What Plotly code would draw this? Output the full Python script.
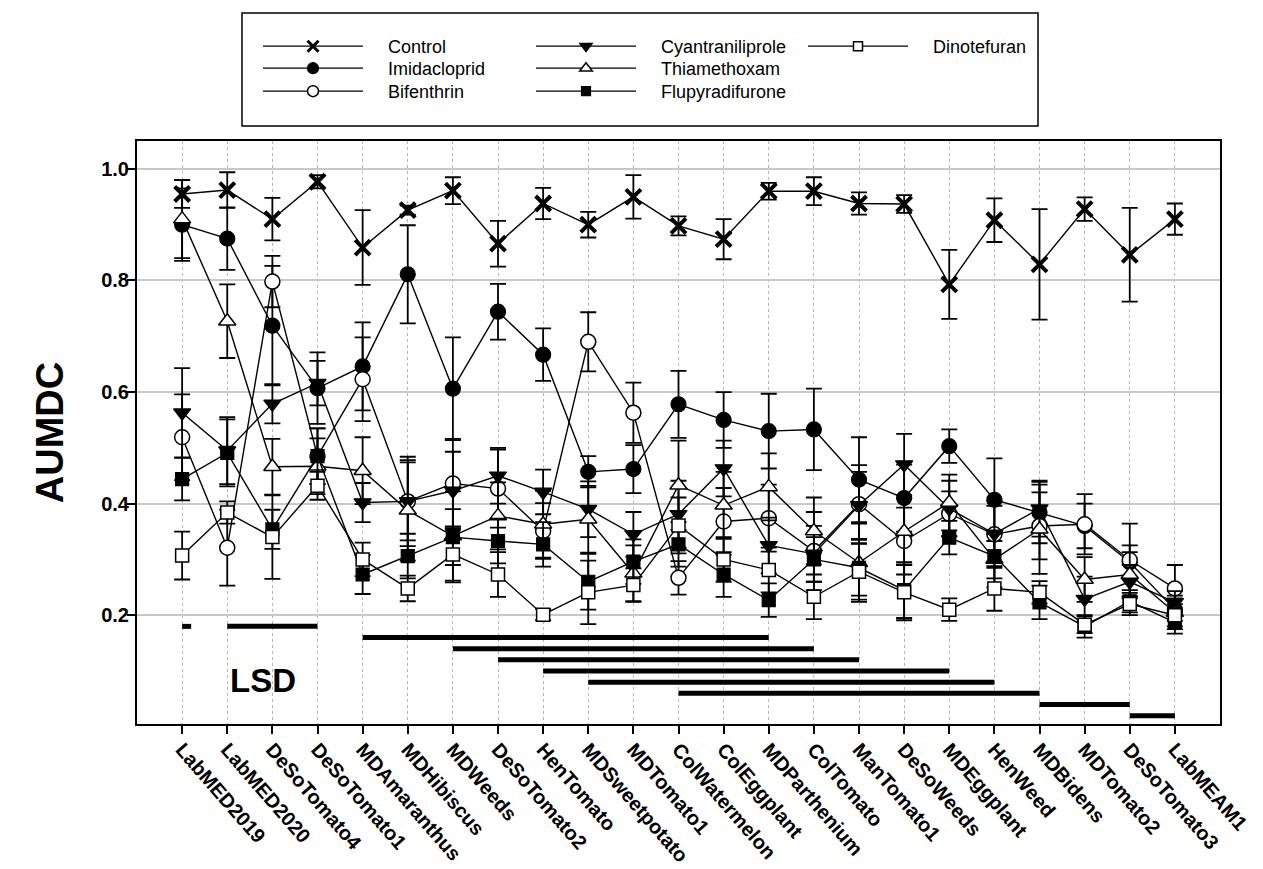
import plotly.graph_objects as go

categories = ["LabMED2019", "LabMED2020", "DeSoTomato4", "DeSoTomato1", "MDAmaranthus",
              "MDHibiscus", "MDWeeds", "DeSoTomato2", "HenTomato", "MDSweetpotato",
              "MDTomato1", "ColWatermelon", "ColEggplant", "MDParthenium", "ColTomato",
              "ManTomato1", "DeSoWeeds", "MDEggplant", "HenWeed", "MDBidens",
              "MDTomato2", "DeSoTomato3", "LabMEAM1"]

control = [0.955, 0.962, 0.910, 0.977, 0.859, 0.926, 0.961, 0.866, 0.938, 0.900, 0.950, 0.898,
           0.874, 0.960, 0.960, 0.938, 0.937, 0.793, 0.908, 0.829, 0.928, 0.846, 0.910]
control_se = [0.025, 0.032, 0.038, 0.012, 0.067, 0.008, 0.024, 0.041, 0.028, 0.023, 0.039, 0.017,
              0.036, 0.015, 0.025, 0.020, 0.016, 0.062, 0.039, 0.099, 0.021, 0.084, 0.028]

imidacloprid = [0.900, 0.875, 0.719, 0.607, 0.646, 0.811, 0.606, 0.744, 0.667, 0.457, 0.462, 0.578,
                0.550, 0.530, 0.533, 0.443, 0.410, 0.503, 0.407, 0.384, 0.360, 0.295, 0.210]
imidacloprid_se = [0.065, 0.056, 0.107, 0.064, 0.079, 0.088, 0.092, 0.050, 0.047, 0.028, 0.043, 0.060,
                   0.050, 0.067, 0.073, 0.076, 0.060, 0.030, 0.074, 0.055, 0.040, 0.030, 0.020]

bifenthrin = [0.519, 0.321, 0.798, 0.485, 0.623, 0.404, 0.436, 0.427, 0.351, 0.690, 0.563, 0.267,
              0.368, 0.374, 0.315, 0.399, 0.333, 0.382, 0.345, 0.360, 0.363, 0.299, 0.248]
bifenthrin_se = [0.077, 0.068, 0.046, 0.050, 0.075, 0.080, 0.080, 0.070, 0.050, 0.053, 0.054, 0.030,
                 0.060, 0.060, 0.070, 0.070, 0.060, 0.040, 0.060, 0.060, 0.054, 0.065, 0.042]

cyantraniliprole = [0.563, 0.495, 0.579, 0.616, 0.402, 0.404, 0.423, 0.450, 0.421, 0.390, 0.345, 0.381,
                    0.463, 0.325, 0.310, 0.397, 0.470, 0.391, 0.346, 0.391, 0.229, 0.260, 0.223]
cyantraniliprole_se = [0.080, 0.060, 0.035, 0.040, 0.035, 0.070, 0.070, 0.050, 0.040, 0.050, 0.040, 0.060,
                       0.050, 0.050, 0.050, 0.060, 0.055, 0.050, 0.050, 0.050, 0.040, 0.030, 0.020]

thiamethoxam = [0.910, 0.727, 0.466, 0.467, 0.459, 0.388, 0.342, 0.378, 0.363, 0.372, 0.275, 0.433,
                0.397, 0.430, 0.351, 0.294, 0.350, 0.402, 0.300, 0.354, 0.264, 0.273, 0.205]
thiamethoxam_se = [0.070, 0.066, 0.050, 0.050, 0.060, 0.090, 0.080, 0.060, 0.060, 0.060, 0.050, 0.080,
                   0.060, 0.060, 0.060, 0.070, 0.060, 0.050, 0.050, 0.080, 0.040, 0.040, 0.030]

flupyradifurone = [0.444, 0.491, 0.354, 0.485, 0.273, 0.306, 0.340, 0.333, 0.327, 0.260, 0.296, 0.327,
                   0.273, 0.227, 0.300, 0.285, 0.245, 0.339, 0.306, 0.223, 0.180, 0.225, 0.187]
flupyradifurone_se = [0.038, 0.060, 0.035, 0.050, 0.035, 0.040, 0.050, 0.040, 0.040, 0.050, 0.040, 0.040,
                      0.040, 0.030, 0.040, 0.050, 0.050, 0.030, 0.040, 0.030, 0.020, 0.020, 0.020]

dinotefuran = [0.307, 0.384, 0.340, 0.432, 0.300, 0.248, 0.309, 0.273, 0.201, 0.241, 0.254, 0.361,
               0.300, 0.281, 0.233, 0.278, 0.241, 0.210, 0.248, 0.241, 0.183, 0.220, 0.200]
dinotefuran_se = [0.043, 0.020, 0.075, 0.025, 0.030, 0.023, 0.050, 0.040, 0.010, 0.057, 0.030, 0.050,
                  0.040, 0.040, 0.040, 0.050, 0.050, 0.020, 0.040, 0.020, 0.015, 0.020, 0.020]

# LSD segments (category index start/end and height)
lsd_start = [0, 1, 4, 6, 7, 8, 9, 11, 19, 21]
lsd_end = [0.2, 3, 13, 14, 15, 17, 18, 19, 21, 22]
lsd_y = [0.18, 0.18, 0.16, 0.14, 0.12, 0.10, 0.08, 0.06, 0.04, 0.02]

FONT = "Liberation Sans, Arial, sans-serif"
xidx = list(range(len(categories)))

# name, values, errors, marker, legend column, legend row
series = [
    ("Control", control, control_se, dict(symbol="x-thin", size=15, color="black",
                                          line=dict(color="black", width=4)), 0, 0),
    ("Imidacloprid", imidacloprid, imidacloprid_se, dict(symbol="circle", size=15, color="black",
                                                         line=dict(color="black", width=1.2)), 0, 1),
    ("Bifenthrin", bifenthrin, bifenthrin_se, dict(symbol="circle", size=15, color="white",
                                                   line=dict(color="black", width=1.5)), 0, 2),
    ("Cyantraniliprole", cyantraniliprole, cyantraniliprole_se, dict(symbol="triangle-down", size=15, color="black",
                                                                     line=dict(color="black", width=1.2)), 1, 0),
    ("Thiamethoxam", thiamethoxam, thiamethoxam_se, dict(symbol="triangle-up", size=15, color="white",
                                                         line=dict(color="black", width=1.5)), 1, 1),
    ("Flupyradifurone", flupyradifurone, flupyradifurone_se, dict(symbol="square", size=13, color="black",
                                                                   line=dict(color="black", width=1.2)), 1, 2),
    ("Dinotefuran", dinotefuran, dinotefuran_se, dict(symbol="square", size=13, color="white",
                                                      line=dict(color="black", width=1.5)), 2, 0),
]

fig = go.Figure()

# LSD bars
lx, ly = [], []
for s, e, yv in zip(lsd_start, lsd_end, lsd_y):
    lx += [s, e, None]
    ly += [yv, yv, None]
fig.add_trace(go.Scatter(x=lx, y=ly, mode="lines", line=dict(color="black", width=5),
                         showlegend=False, hoverinfo="skip"))

for name, vals, errs, mk, col, row in series:
    fig.add_trace(go.Scatter(
        x=xidx, y=vals, mode="lines+markers", name=name,
        line=dict(color="black", width=1.4),
        marker=mk,
        error_y=dict(type="data", array=errs, visible=True, color="black", thickness=1.8, width=8),
        showlegend=False,
    ))

PL, PR, PT, PB = 129, 1212, 133, 716
def px2x(px):
    return (px - PL) / (PR - PL)
def py2y(py):
    return (PB - py) / (PB - PT)

col_left = [250, 523, 795]
row_top = [20, 42, 65]

legends = {}
for k, (name, vals, errs, mk, col, row) in enumerate(series):
    lname = "legend" if k == 0 else "legend%d" % (k + 1)
    mk2 = dict(mk)
    mk2["size"] = mk["size"] - 4
    if mk["symbol"] == "x-thin":
        mk2["line"] = dict(color="black", width=3)
    fig.add_trace(go.Scatter(
        x=[None], y=[None], mode="lines+markers", name="\u00a0\u00a0\u00a0\u00a0" + name,
        line=dict(color="black", width=1.3), marker=mk2, legend=lname, showlegend=True,
    ))
    legends[lname] = dict(x=px2x(col_left[col]), y=py2y(row_top[row]), xanchor="left", yanchor="top",
                          bgcolor="rgba(0,0,0,0)", borderwidth=0, itemwidth=100,
                          font=dict(family=FONT, size=18, color="black"))

fig.update_layout(
    width=1263, height=869,
    margin=dict(l=PL, r=1263 - PR, t=PT, b=869 - PB, autoexpand=False),
    paper_bgcolor="white", plot_bgcolor="white",
    font=dict(family=FONT, color="black"),
    xaxis=dict(range=[-1, 23], tickmode="array", tickvals=xidx, ticktext=categories,
               tickangle=49, ticks="outside", ticklen=8, tickwidth=1.5, tickcolor="black",
               ticklabelstandoff=-4, automargin=False,
               showline=True, linewidth=2, linecolor="black", mirror=True,
               showgrid=True, gridcolor="#b5b5b5", griddash="dot", gridwidth=1, zeroline=False,
               tickfont=dict(family=FONT, size=20, weight="bold", color="black")),
    yaxis=dict(range=[0.005, 1.05], tickmode="array", tickvals=[0.2, 0.4, 0.6, 0.8, 1.0],
               ticktext=["0.2", "0.4", "0.6", "0.8", "1.0"],
               ticks="outside", ticklen=8, tickwidth=1.5, tickcolor="black",
               ticklabelstandoff=-6, automargin=False,
               showline=True, linewidth=2, linecolor="black", mirror=True,
               showgrid=True, gridcolor="#c8c8c8", gridwidth=1.5, zeroline=False,
               tickfont=dict(family=FONT, size=20, weight="bold", color="black"),
               title=dict(text="AUMDC", standoff=26, font=dict(family=FONT, size=38, weight="bold", color="black"))),
    shapes=[dict(type="rect", xref="paper", yref="paper",
                 x0=px2x(234), x1=px2x(1030), y0=py2y(118), y1=py2y(5),
                 line=dict(color="black", width=1.5), fillcolor="rgba(0,0,0,0)")],
    annotations=[dict(x=1.8, y=0.083, xref="x", yref="y", text="<b>LSD</b>", showarrow=False,
                      font=dict(family=FONT, size=33, color="black"))],
    **legends,
)

fig.write_html("out.html")
